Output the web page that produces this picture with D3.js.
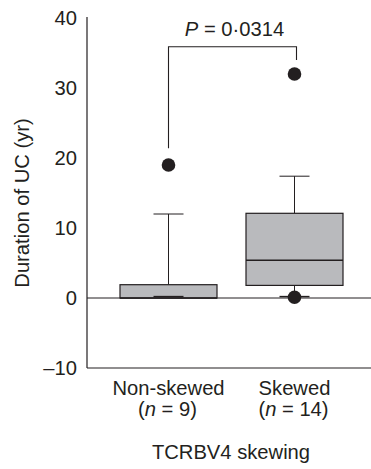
<!DOCTYPE html>
<html><head><meta charset="utf-8">
<script src="https://cdn.jsdelivr.net/npm/d3@7"></script>
<style>
html,body{margin:0;padding:0;background:#fff;}
text{font-family:"Liberation Sans",Arial,Helvetica,sans-serif;fill:#231f20;}
</style></head>
<body><svg id="c" width="371" height="469"></svg>
<script>
const categories = ["Non-skewed", "Skewed"];
const groupN = [9, 14];
const whiskerLow = [0.2, 0.2];
const q1 = [0, 1.8];
const median = [0, 5.4];
const q3 = [1.9, 12.1];
const whiskerHigh = [12, 17.4];
const outliers = [[19], [32, 0.1]];
const yTicks = [-10, 0, 10, 20, 30, 40];
const pLabel = "0·0314";
const bracket = {top: 35.9, leftEnd: 21.4, rightEnd: 34};

const svg = d3.select("#c");
const ink = "#231f20";
const fs = 20.2;
const y = d3.scaleLinear().domain([-10, 40]).range([368, 18]);
const x = d3.scalePoint().domain(categories).range([168.5, 294.5]);
const axisX = 87, rightX = 371, boxW = 97, capW = 30;

// y axis
const ax = svg.append("g").attr("transform", `translate(${axisX},0)`)
  .call(d3.axisLeft(y).tickValues(yTicks).tickSize(0).tickPadding(10)
        .tickFormat(d => d < 0 ? "\u2013" + Math.abs(d) : d));
ax.select(".domain").attr("stroke", ink).attr("stroke-width", 1.2).attr("d", `M0,${y(40)-1}V${y(-10)}`);
ax.selectAll("text").attr("font-size", fs).attr("font-family", null).style("fill", ink);

// bottom line and zero line
svg.append("line").attr("x1", axisX).attr("x2", rightX).attr("y1", y(-10)).attr("y2", y(-10)).attr("stroke", ink).attr("stroke-width", 1.2);
svg.append("line").attr("x1", axisX).attr("x2", rightX).attr("y1", y(0)).attr("y2", y(0)).attr("stroke", ink).attr("stroke-width", 1);

// boxes
categories.forEach((c, i) => {
  const cx = x(c);
  const g = svg.append("g");
  g.append("line").attr("x1", cx).attr("x2", cx).attr("y1", y(q3[i])).attr("y2", y(whiskerHigh[i])).attr("stroke", ink);
  g.append("line").attr("x1", cx - capW/2).attr("x2", cx + capW/2).attr("y1", y(whiskerHigh[i])).attr("y2", y(whiskerHigh[i])).attr("stroke", ink);
  g.append("line").attr("x1", cx).attr("x2", cx).attr("y1", y(q1[i])).attr("y2", y(whiskerLow[i])).attr("stroke", ink);
  g.append("rect").attr("x", cx - boxW/2).attr("y", y(q3[i])).attr("width", boxW)
    .attr("height", y(q1[i]) - y(q3[i])).attr("fill", "#b9babd").attr("stroke", ink).attr("stroke-width", 1.2);
  g.append("line").attr("x1", cx - capW/2).attr("x2", cx + capW/2).attr("y1", y(whiskerLow[i])).attr("y2", y(whiskerLow[i])).attr("stroke", ink).attr("stroke-width", 1.5);
  g.append("line").attr("x1", cx - boxW/2).attr("x2", cx + boxW/2).attr("y1", y(median[i])).attr("y2", y(median[i])).attr("stroke", ink).attr("stroke-width", 1.5);
  outliers[i].forEach(v => {
    g.append("circle").attr("cx", cx).attr("cy", y(v)).attr("r", 6.8).attr("fill", ink);
  });
  svg.append("text").attr("x", cx).attr("y", 395).attr("text-anchor", "middle").attr("font-size", fs).text(c);
  const t = svg.append("text").attr("x", cx - 1).attr("y", 416).attr("text-anchor", "middle").attr("font-size", fs);
  t.append("tspan").text("(");
  t.append("tspan").attr("font-style", "italic").text("n");
  t.append("tspan").text(" = " + groupN[i] + ")");
});

// significance bracket
const bx0 = x(categories[0]), bx1 = x(categories[1]) + 2;
svg.append("path").attr("fill", "none").attr("stroke", ink).attr("stroke-width", 1.1)
  .attr("d", `M${bx0},${y(bracket.leftEnd)}V${y(bracket.top)}H${bx1}V${y(bracket.rightEnd)}`);
const pt = svg.append("text").attr("x", (bx0 + bx1)/2 + 2).attr("y", 36).attr("text-anchor", "middle").attr("font-size", fs);
pt.append("tspan").attr("font-style", "italic").text("P");
pt.append("tspan").text(" = " + pLabel);

// axis titles
svg.append("text").attr("transform", `translate(29,203) rotate(-90)`).attr("text-anchor", "middle").attr("font-size", fs).text("Duration of UC (yr)");
svg.append("text").attr("x", 231).attr("y", 459).attr("text-anchor", "middle").attr("font-size", fs).text("TCRBV4 skewing");
</script></body></html>
